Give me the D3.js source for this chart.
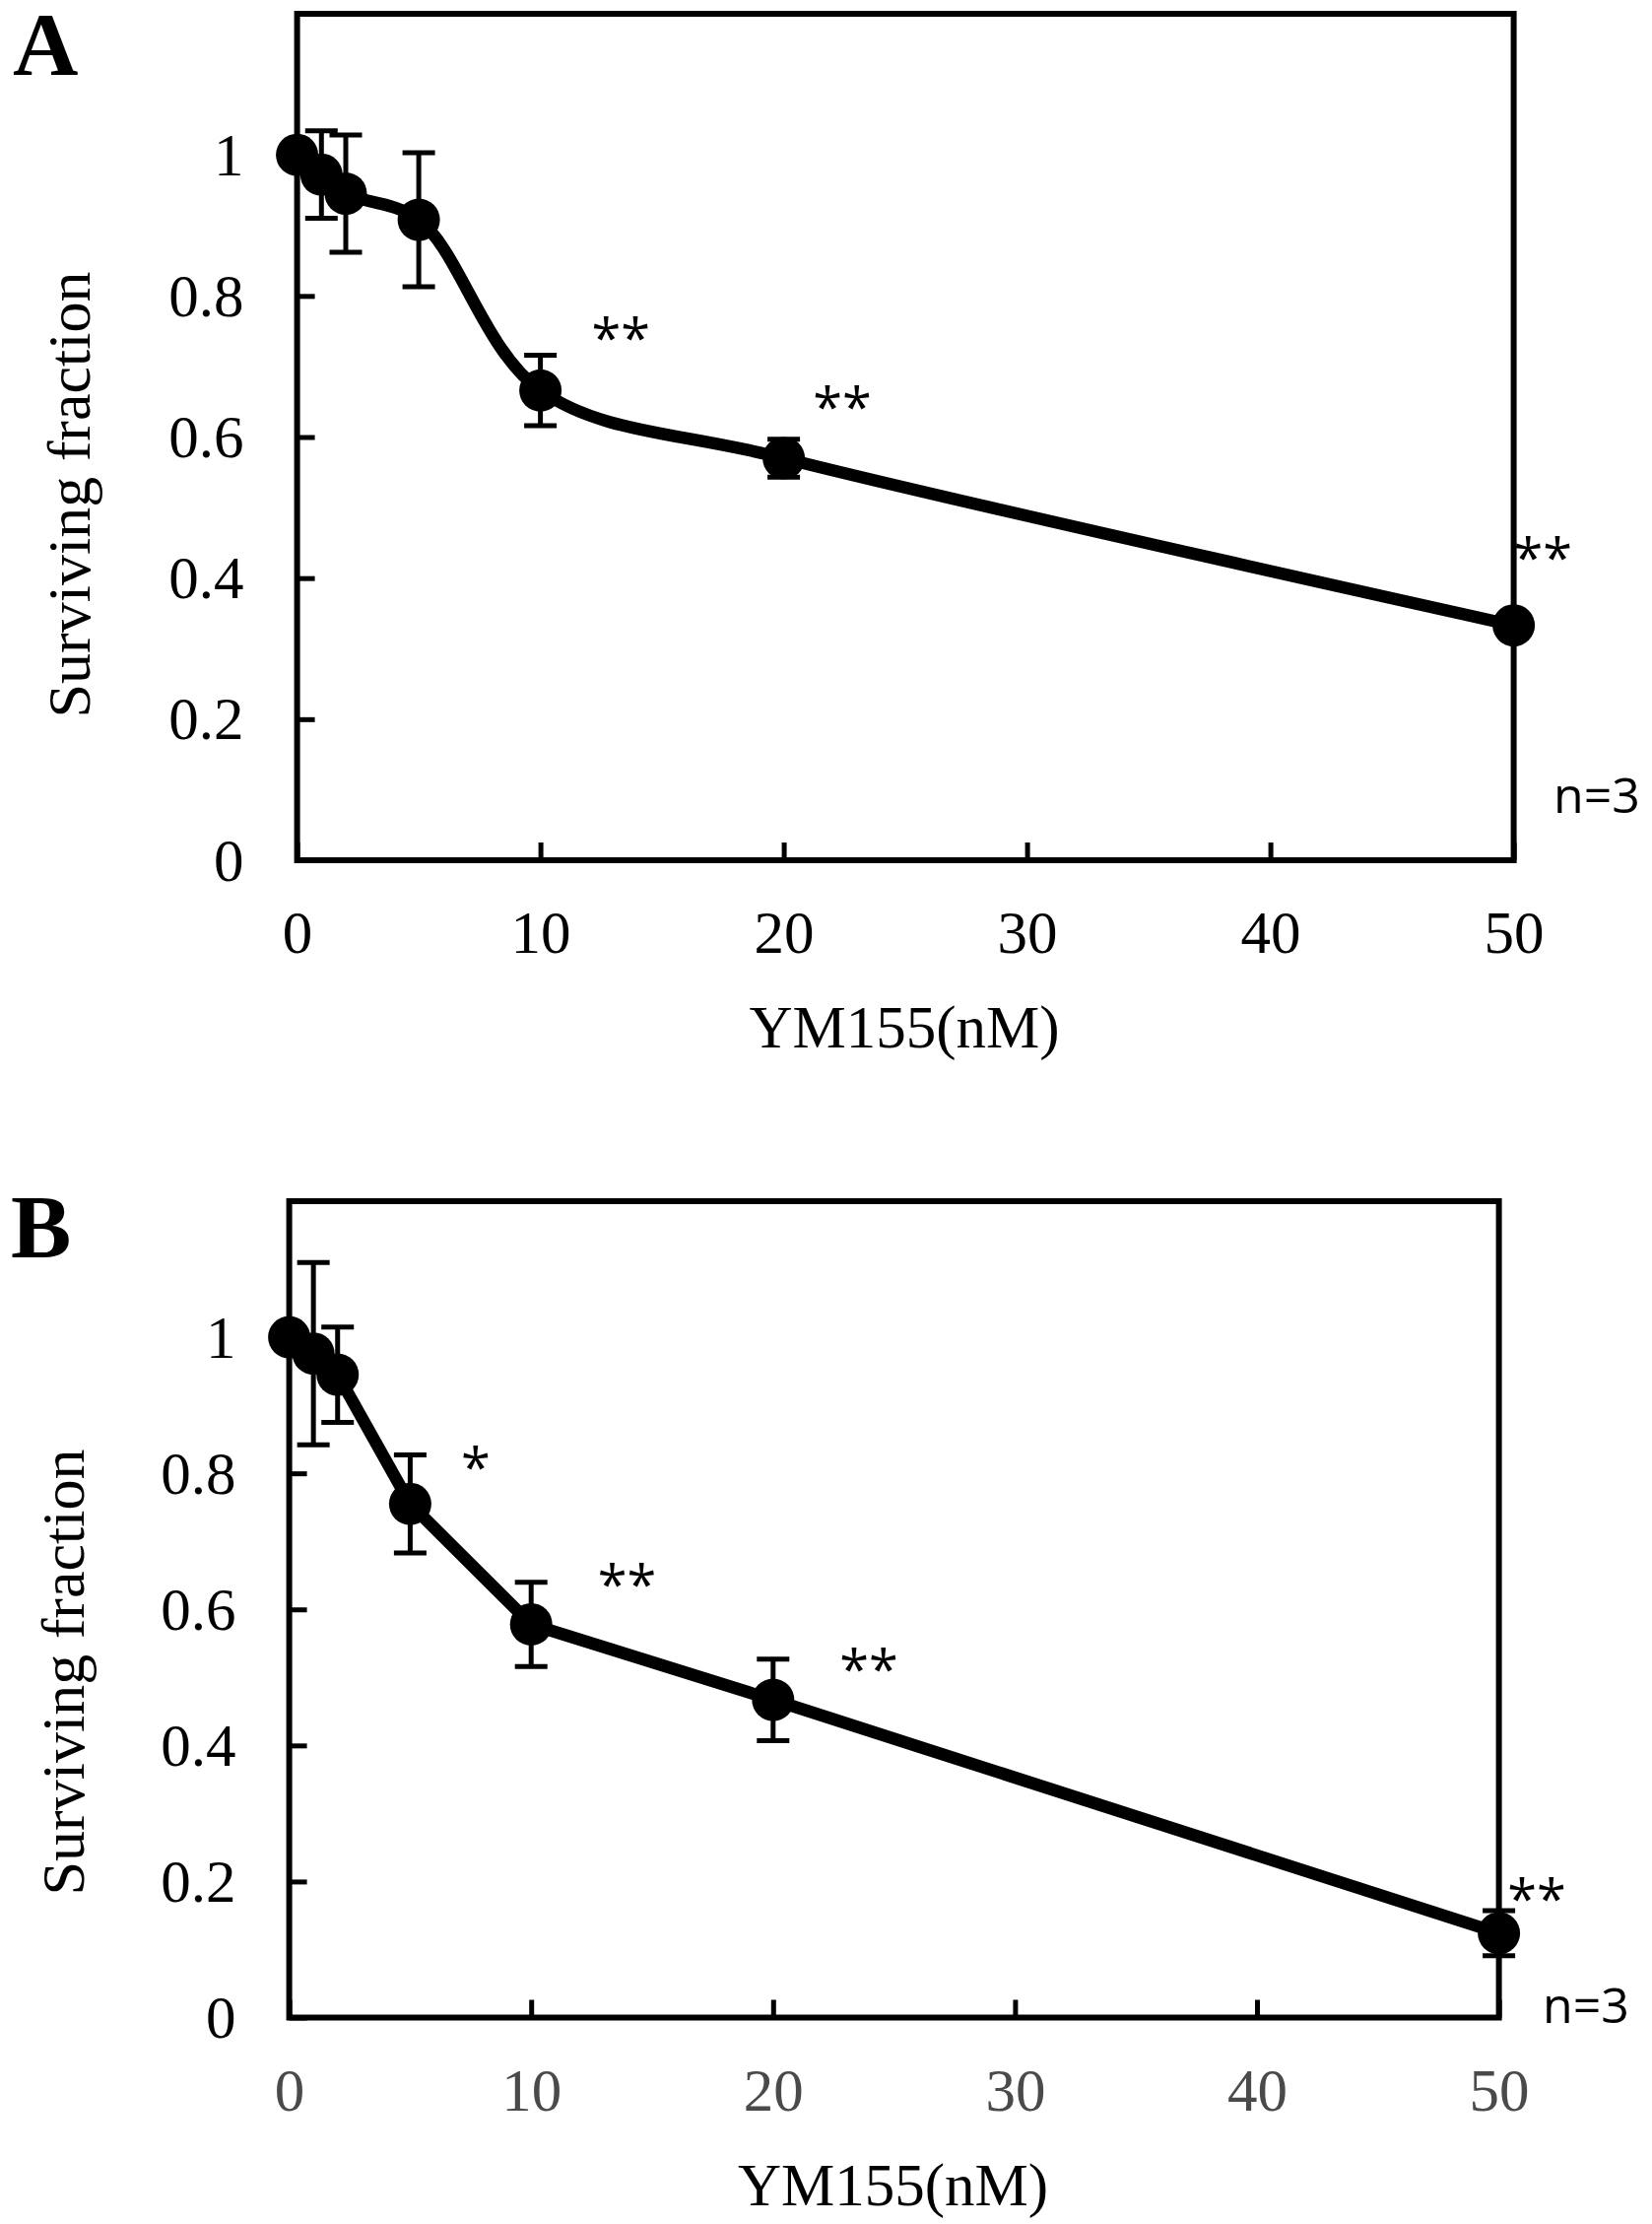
<!DOCTYPE html>
<html>
<head>
<meta charset="utf-8">
<script src="https://cdn.jsdelivr.net/npm/d3@7/dist/d3.min.js"></script>
<style>
  html, body { margin: 0; padding: 0; background: #ffffff; }
  svg { display: block; }
</style>
</head>
<body>
<svg id="chart" width="1677" height="2257"></svg>
<script>
// ---------------- DATA ----------------
const doses = [0, 1, 2, 5, 10, 20, 50];               // YM155 (nM)
const survivalA = [1.000, 0.972, 0.945, 0.908, 0.666, 0.570, 0.333];
const errorA    = [0.000, 0.062, 0.083, 0.095, 0.050, 0.027, 0.008];
const survivalB = [1.000, 0.976, 0.945, 0.755, 0.578, 0.467, 0.124];
const errorB    = [0.000, 0.134, 0.070, 0.072, 0.062, 0.060, 0.033];
const xTicks = [0, 10, 20, 30, 40, 50];
const yTicks = [0, 0.2, 0.4, 0.6, 0.8, 1];
const yTickLabels = ["0", "0.2", "0.4", "0.6", "0.8", "1"];
const xTickLabels = ["0", "10", "20", "30", "40", "50"];
// significance marks: data-space position of text start / glyph top
const sigA = [
  { x: 12.10, y: 0.765, text: "**" },
  { x: 21.20, y: 0.668, text: "**" },
  { x: 50.00, y: 0.454, text: "**" }
];
const sigB = [
  { x: 7.10,  y: 0.835, text: "*" },
  { x: 12.75, y: 0.663, text: "**" },
  { x: 22.75, y: 0.538, text: "**" },
  { x: 50.35, y: 0.200, text: "**" }
];
const panelLabels = ["A", "B"];
const xTitle = "YM155(nM)";
const yTitle = "Surviving fraction";
const nLabel = "n=3";

// ---------------- LAYOUT ----------------
const svg = d3.select("#chart");
const SERIF = "'Liberation Serif', 'Times New Roman', serif";
const SANS = "'Open Sans', 'Liberation Sans', sans-serif";

const panels = [
  { label: panelLabels[0], values: survivalA, errors: errorA, sig: sigA,
    left: 301.6, right: 1536.6, top: 14, bottom: 873,
    smooth: true, xTickColor: "#000",
    labelPos: [13, 76], yTitlePos: [91, 502], nPos: [1577, 825] },
  { label: panelLabels[1], values: survivalB, errors: errorB, sig: sigB,
    left: 293.6, right: 1521.6, top: 1219, bottom: 2047.5,
    smooth: false, xTickColor: "#4a4a4a",
    labelPos: [11, 1276], yTitlePos: [85, 1697], nPos: [1566, 2053] }
];

panels.forEach(p => {
  const x = d3.scaleLinear().domain([0, 50]).range([p.left, p.right]);
  const y = d3.scaleLinear().domain([0, 1.2]).range([p.bottom, p.top]);
  const g = svg.append("g");

  // frame
  g.append("rect")
    .attr("x", p.left).attr("y", p.top)
    .attr("width", p.right - p.left).attr("height", p.bottom - p.top)
    .attr("fill", "none").attr("stroke", "#000").attr("stroke-width", 6);

  // y axis
  const yAxis = d3.axisLeft(y).tickValues(yTicks)
    .tickFormat((d, i) => yTickLabels[i])
    .tickSizeInner(-18).tickSizeOuter(0).tickPadding(54);
  const ya = g.append("g").attr("transform", `translate(${p.left},0)`).call(yAxis);
  ya.select(".domain").remove();
  ya.selectAll(".tick line").attr("stroke", "#000").attr("stroke-width", 5);
  ya.selectAll(".tick text").attr("font-family", SERIF).attr("font-size", 61)
    .attr("fill", "#000").attr("dy", "0.33em");

  // x axis
  const xAxis = d3.axisBottom(x).tickValues(xTicks)
    .tickFormat((d, i) => xTickLabels[i])
    .tickSizeInner(-18).tickSizeOuter(0).tickPadding(51);
  const xa = g.append("g").attr("transform", `translate(0,${p.bottom})`).call(xAxis);
  xa.select(".domain").remove();
  xa.selectAll(".tick line").attr("stroke", "#000").attr("stroke-width", 5);
  xa.selectAll(".tick text").attr("font-family", SERIF).attr("font-size", 61)
    .attr("fill", p.xTickColor);

  // axis titles
  g.append("text")
    .attr("x", (p.left + p.right) / 2 - 1).attr("y", p.bottom + 190)
    .attr("text-anchor", "middle")
    .attr("font-family", SERIF).attr("font-size", 61).attr("fill", "#000")
    .text(xTitle);
  g.append("text")
    .attr("transform", `translate(${p.yTitlePos[0]},${p.yTitlePos[1]}) rotate(-90)`)
    .attr("text-anchor", "middle")
    .attr("font-family", SERIF).attr("font-size", 62).attr("fill", "#000")
    .text(yTitle);

  // panel letter
  g.append("text")
    .attr("x", p.labelPos[0]).attr("y", p.labelPos[1])
    .attr("font-family", SERIF).attr("font-weight", "bold").attr("font-size", 92)
    .attr("fill", "#000").text(p.label);

  // series
  const pts = doses.map((d, i) => ({ x: d, y: p.values[i], e: p.errors[i] }));
  const line = d3.line()
    .x(d => x(d.x)).y(d => y(d.y))
    .curve(p.smooth ? d3.curveCatmullRom.alpha(0.5) : d3.curveLinear);
  g.append("path").datum(pts)
    .attr("d", line).attr("fill", "none")
    .attr("stroke", "#000").attr("stroke-width", 12.5)
    .attr("stroke-linejoin", "round");

  // error bars
  const eb = g.append("g").attr("stroke", "#000").attr("stroke-width", 5);
  pts.filter(d => d.e > 0).forEach(d => {
    eb.append("line").attr("x1", x(d.x)).attr("x2", x(d.x))
      .attr("y1", y(d.y + d.e)).attr("y2", y(d.y - d.e));
    [d.y + d.e, d.y - d.e].forEach(v => {
      eb.append("line").attr("x1", x(d.x) - 16.5).attr("x2", x(d.x) + 16.5)
        .attr("y1", y(v)).attr("y2", y(v));
    });
  });

  // markers
  g.append("g").selectAll("circle").data(pts).join("circle")
    .attr("cx", d => x(d.x)).attr("cy", d => y(d.y)).attr("r", 21.5)
    .attr("fill", "#000");

  // significance marks
  g.append("g").selectAll("text").data(p.sig).join("text")
    .attr("x", d => x(d.x)).attr("y", d => y(d.y) + 38)
    .attr("font-family", SANS).attr("font-size", 54).attr("fill", "#000")
    .text(d => d.text);

  // n label
  g.append("text")
    .attr("x", p.nPos[0]).attr("y", p.nPos[1])
    .attr("font-family", SANS).attr("font-size", 50).attr("fill", "#000")
    .text(nLabel);
});
</script>
</body>
</html>
